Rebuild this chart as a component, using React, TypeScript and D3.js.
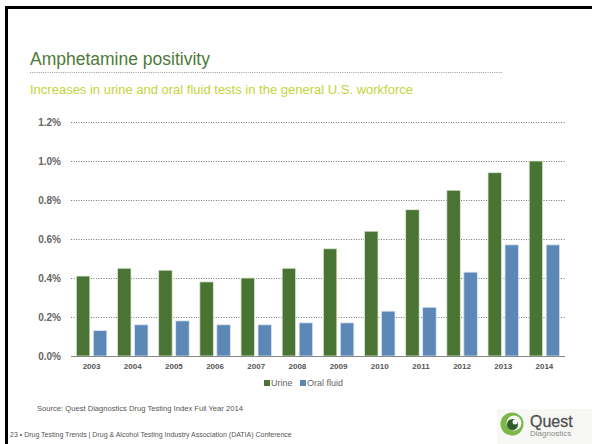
import React from "react";
import * as d3 from "d3";

const years = ["2003","2004","2005","2006","2007","2008","2009","2010","2011","2012","2013","2014"];
const urine = [0.41,0.45,0.44,0.38,0.40,0.45,0.55,0.64,0.75,0.85,0.94,1.00];
const oral = [0.13,0.16,0.18,0.16,0.16,0.17,0.17,0.23,0.25,0.43,0.57,0.57];
const yTicks = [0,0.2,0.4,0.6,0.8,1.0,1.2];
const seriesNames = ["Urine","Oral fluid"];

const W = 592, H = 444;
const plot = { left: 71, right: 565, top: 122, bottom: 356 };
const FONT = "Liberation Sans, Arial, sans-serif";

export default function App() {
  const x = d3.scaleBand().domain(years).range([plot.left, plot.right]).paddingInner(0).paddingOuter(0);
  const y = d3.scaleLinear().domain([0, 1.2]).range([plot.bottom, plot.top]);
  const bw = 13.5;
  const gap = 3.5;
  const colors = ["#4a7434", "#5b88b6"];
  return (
    <svg width={W} height={H} style={{ position: "absolute", left: 0, top: 0, fontFamily: FONT }}>
      <rect x={0} y={0} width={W} height={H} fill="#fff" />
      <rect x={6.5} y={7.5} width={W + 20} height={H + 20} fill="none" stroke="#000" strokeWidth={3} />
      <text x={30} y={65} fontSize={17.5} fill="#4d7a38">Amphetamine positivity</text>
      <line x1={30} x2={502} y1={72.5} y2={72.5} stroke="#999" strokeWidth={1} strokeDasharray="1,1.2" />
      <text x={30} y={94} fontSize={13} fill="#c3d53a">Increases in urine and oral fluid tests in the general U.S. workforce</text>
      {yTicks.map((t) => (
        <g key={t}>
          {t > 0 && (
            <line x1={plot.left} x2={plot.right} y1={Math.round(y(t)) + 0.5} y2={Math.round(y(t)) + 0.5}
              stroke="#777" strokeWidth={1} strokeDasharray="1,1.5" />
          )}
          <text x={61} y={y(t) + 3.5} fontSize={10} fontWeight="bold" fill="#666" textAnchor="end">
            {(t).toFixed(1)}%
          </text>
        </g>
      ))}
      {years.map((yr, i) => {
        const c = (x(yr) as number) + x.bandwidth() / 2;
        return (
          <g key={yr}>
            <rect x={c - gap / 2 - bw} y={y(urine[i])} width={bw} height={plot.bottom - y(urine[i])}
              fill={colors[0]} stroke="#dfe8d8" strokeWidth={0.8} />
            <rect x={c + gap / 2} y={y(oral[i])} width={bw} height={plot.bottom - y(oral[i])}
              fill={colors[1]} stroke="#dbe6f0" strokeWidth={0.8} />
            <text x={c} y={plot.bottom + 12.5} fontSize={8} fontWeight="bold" fill="#555" textAnchor="middle">{yr}</text>
          </g>
        );
      })}
      <line x1={plot.left} x2={plot.right} y1={plot.bottom + 0.5} y2={plot.bottom + 0.5} stroke="#888" strokeWidth={1} />
      <g fontSize={9} fill="#666">
        <rect x={264} y={380} width={6} height={6} fill={colors[0]} />
        <text x={271} y={386}>{seriesNames[0]}</text>
        <rect x={300} y={380} width={6} height={6} fill={colors[1]} />
        <text x={307} y={386}>{seriesNames[1]}</text>
      </g>
      <text x={37} y={411} fontSize={7.6} fill="#555">Source: Quest Diagnostics  Drug Testing Index Full Year 2014</text>
      <text x={10} y={437} fontSize={7} fill="#555">23 • Drug Testing Trends  |  Drug &amp; Alcohol Testing Industry Association (DATIA)  Conference</text>
      <g>
        <rect x={497} y={409} width={95} height={35} fill="#f7f8f5" />
        <circle cx={512} cy={424} r={11.5} fill="#7ab648" />
        <circle cx={514} cy={423} r={7.5} fill="#f7f8f5" />
        <circle cx={512.5} cy={424.5} r={5.5} fill="#2f5d2a" />
        <circle cx={515} cy={422} r={2.5} fill="#f7f8f5" />
        <text x={530} y={427} fontSize={16} fill="#505050" stroke="#505050" strokeWidth={0.3}>Quest</text>
        <text x={530} y={435.5} fontSize={8} fill="#8a8a8a">Diagnostics</text>
      </g>
    </svg>
  );
}
